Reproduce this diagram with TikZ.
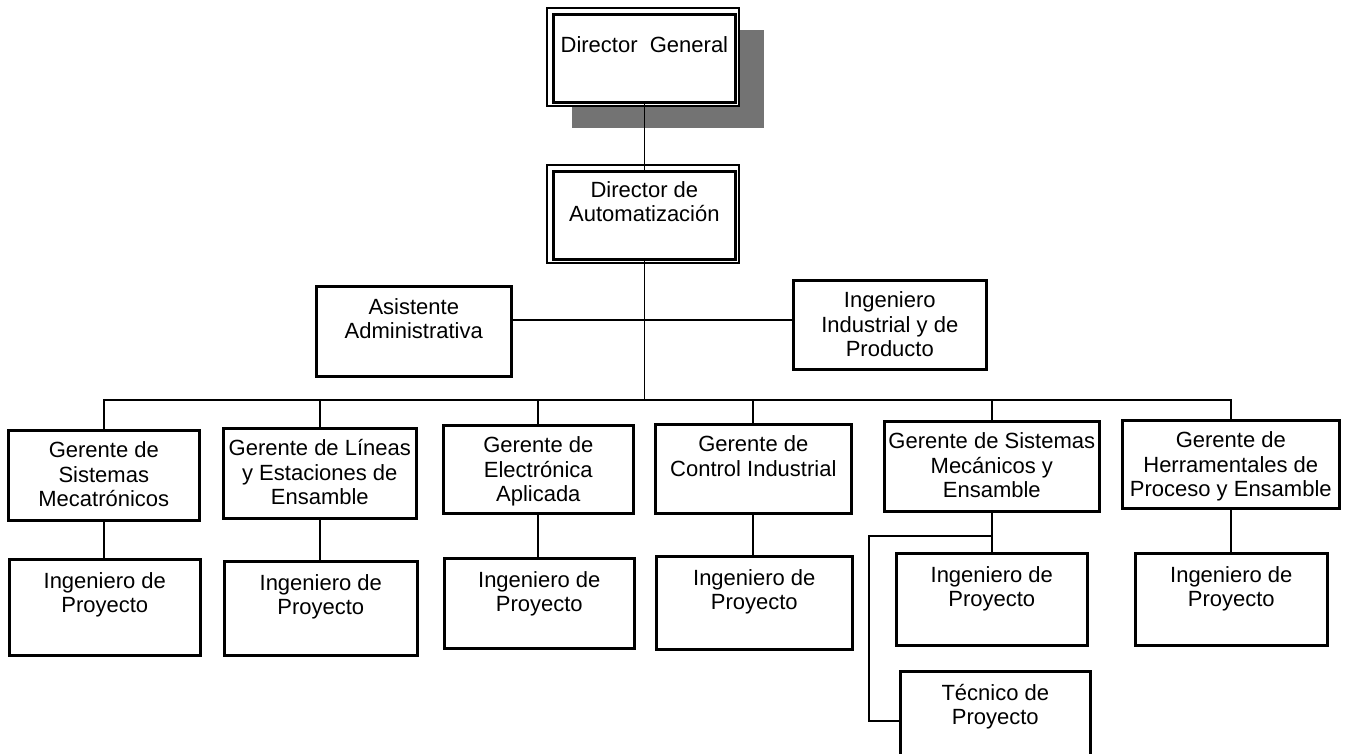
\documentclass[tikz,border=0pt]{standalone}
\usepackage{fontspec}
\setmainfont{Liberation Sans}
% top-aligned, centred text block of fixed size: width, height, top gap, text
\newcommand{\cellbox}[4]{\parbox[c][#2][t]{#1}{\centering\vspace*{#3}\strut#4\par}}
\begin{document}
\begin{tikzpicture}[x=0.5pt,y=-0.5pt,
  font=\fontsize{11}{12.25}\selectfont,
  box/.style={draw, line width=1.3pt, fill=white, inner sep=0pt, anchor=north west},
  dirbox/.style={box, line width=1.4pt},
  outerframe/.style={draw, line width=0.8pt, fill=white},
  shade/.style={fill=black!55},
  link/.style={draw, line width=0.9pt}]
\useasboundingbox (0,0) rectangle (1355,754);

% Director General with shadow and double frame
\fill[shade] (572,30) rectangle (764,128);
\draw[outerframe] (547,8) rectangle (739,106);
\node[dirbox] (dg) at (552,13) {\cellbox{91pt}{44pt}{10.4pt}{Director\ \ General}};

% Director de Automatizacion with double frame
\draw[outerframe] (547,165) rectangle (739,263);
\node[dirbox] (da) at (552,170) {\cellbox{91pt}{44pt}{4.4pt}{Director de\\Automatización}};

% staff positions
\node[box] (asis) at (315,285) {\cellbox{97.5pt}{45pt}{5.4pt}{Asistente\\Administrativa}};
\node[box] (indus) at (792,279) {\cellbox{96.5pt}{44.5pt}{5.1pt}{Ingeniero\\Industrial y de\\Producto}};

% managers
\node[box] (g1) at (7,429)   {\cellbox{95.5pt}{45pt}{5.1pt}{Gerente de\\Sistemas\\Mecatrónicos}};
\node[box] (g2) at (222,427) {\cellbox{96.5pt}{45pt}{5.1pt}{Gerente de Líneas\\y Estaciones de\\Ensamble}};
\node[box] (g3) at (442,424) {\cellbox{95pt}{44pt}{5.1pt}{Gerente de\\Electrónica\\Aplicada}};
\node[box] (g4) at (654,423) {\cellbox{98pt}{44.5pt}{5.1pt}{Gerente de\\Control Industrial}};
\node[box] (g5) at (883,420) {\cellbox{107.5pt}{45pt}{5.1pt}{Gerente de Sistemas\\Mecánicos y\\Ensamble}};
\node[box] (g6) at (1121,419) {\cellbox{108.5pt}{44pt}{5.1pt}{Gerente de\\Herramentales de\\Proceso y Ensamble}};

% engineers and technician
\node[box] (i1) at (8,558)    {\cellbox{95.5pt}{48pt}{5.9pt}{Ingeniero de\\Proyecto}};
\node[box] (i2) at (223,560)  {\cellbox{96.5pt}{47pt}{5.9pt}{Ingeniero de\\Proyecto}};
\node[box] (i3) at (443,557)  {\cellbox{95pt}{45pt}{5.9pt}{Ingeniero de\\Proyecto}};
\node[box] (i4) at (655,555)  {\cellbox{98pt}{46.5pt}{5.9pt}{Ingeniero de\\Proyecto}};
\node[box] (i5) at (895,552)  {\cellbox{95.5pt}{46pt}{5.9pt}{Ingeniero de\\Proyecto}};
\node[box] (t5) at (899,670)  {\cellbox{95pt}{50pt}{5.9pt}{Técnico de\\Proyecto}};
\node[box] (i6) at (1134,552) {\cellbox{96pt}{46pt}{5.9pt}{Ingeniero de\\Proyecto}};

% junction points
\coordinate (bus) at (650,400);
\coordinate (hl) at (650,320);
\coordinate (bend5) at (869,536);

% connectors
\draw[link] (dg.south) -- (da.north);
\draw[link] (da.south) -- (da.south |- bus);
\draw[link] (asis.east |- hl) -- (indus.west |- hl);
\draw[link] (g1.north) -- (g1.north |- bus) -- (g6.north |- bus) -- (g6.north);
\foreach \g in {g2,g3,g4,g5} \draw[link] (\g.north) -- (\g.north |- bus);
\foreach \g/\i in {g1/i1,g2/i2,g3/i3,g4/i4,g5/i5,g6/i6}
  \draw[link] (\g.south) -- (\g.south |- \i.north);
\draw[link] (g5.south |- bend5) -- (bend5) |- (t5.west);
\end{tikzpicture}
\end{document}
